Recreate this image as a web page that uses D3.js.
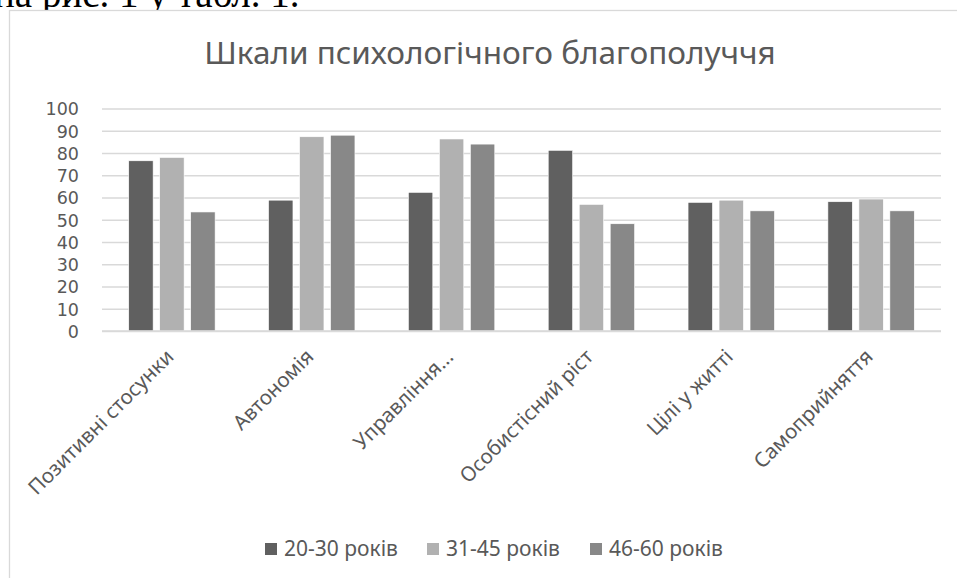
<!DOCTYPE html>
<html lang="uk">
<head>
  <meta charset="UTF-8">
  <title>Шкали психологічного благополуччя</title>
  <script src="https://d3js.org/d3.v7.min.js"></script>
  <style>
    body { margin: 0; background: #fff; }
    text { font-family: "Noto Sans", "Open Sans", sans-serif; fill: #595959; }
    .grid line { stroke: #d9d9d9; stroke-width: 1.3; }
    .grid text { font-family: "DejaVu Sans", sans-serif; font-size: 17.5px; }
    .x-label { font-size: 20.5px; }
    .legend text { font-size: 21px; }
  </style>
</head>
<body>
  <script>
    // data
    const categories = ["Позитивні стосунки", "Автономія", "Управління...", "Особистісний ріст", "Цілі у житті", "Самоприйняття"];
    const seriesNames = ["20-30 років", "31-45 років", "46-60 років"];
    const values2030 = [76.5, 58.8, 62.3, 81.2, 57.8, 58.1];
    const values3145 = [78.0, 87.3, 86.3, 56.9, 58.8, 59.3];
    const values4660 = [53.5, 88.0, 84.0, 48.2, 54.0, 54.0];
    const yTicks = [0, 10, 20, 30, 40, 50, 60, 70, 80, 90, 100];
    const colors = ["#606060", "#b1b1b1", "#888888"];

    const seriesValues = [values2030, values3145, values4660];
    const rows = categories.map((c, i) => ({
      cat: c,
      vals: seriesNames.map((s, j) => ({ s, v: seriesValues[j][i] }))
    }));

    const W = 957, H = 578;
    const margin = { top: 108.5, right: 16, bottom: 247, left: 102 };
    const width = W - margin.left - margin.right;
    const height = H - margin.top - margin.bottom;

    const svg = d3.select("body").append("svg")
      .attr("width", W)
      .attr("height", H);

    // fragment of document text above the chart (cut off by the page edge)
    svg.append("text")
      .attr("x", -6)
      .attr("y", 7)
      .style("font-family", "'Liberation Serif', serif")
      .style("font-size", "39px")
      .style("fill", "#000")
      .text("на рис. 1 у табл. 1.");

    // chart frame
    svg.append("rect")
      .attr("x", 9.5).attr("y", 10.5)
      .attr("width", W).attr("height", H)
      .attr("fill", "#fff")
      .attr("stroke", "#d9d9d9")
      .attr("stroke-width", 1.3);

    // title
    svg.append("text")
      .attr("x", 490)
      .attr("y", 64)
      .attr("text-anchor", "middle")
      .style("font-size", "31.5px")
      .text("Шкали психологічного благополуччя");

    const g = svg.append("g")
      .attr("transform", `translate(${margin.left},${margin.top})`);

    const x0 = d3.scaleBand().domain(categories).range([0, width]).padding(0);
    const barW = x0.bandwidth() / (3 + 2 * 0.27 + 2.19);
    const groupW = 3 * barW + 2 * 0.27 * barW;
    const x1 = d3.scaleBand().domain(seriesNames)
      .range([(x0.bandwidth() - groupW) / 2, (x0.bandwidth() + groupW) / 2])
      .paddingInner(0.27 / 1.27).paddingOuter(0);
    const y = d3.scaleLinear().domain([0, 100]).range([height, 0]);
    const color = d3.scaleOrdinal().domain(seriesNames).range(colors);

    // gridlines + y labels
    const yAxis = g.append("g").attr("class", "grid")
      .call(d3.axisLeft(y).tickValues(yTicks).tickSize(-width).tickPadding(23));
    yAxis.select(".domain").remove();
    yAxis.selectAll("text").attr("dy", "0.36em");

    // bars
    const groups = g.selectAll(".group")
      .data(rows)
      .enter().append("g")
      .attr("class", "group")
      .attr("transform", d => `translate(${x0(d.cat)},0)`);

    groups.selectAll("rect")
      .data(d => d.vals)
      .enter().append("rect")
      .attr("x", d => x1(d.s))
      .attr("y", d => y(d.v))
      .attr("width", x1.bandwidth())
      .attr("height", d => height - y(d.v))
      .attr("fill", d => color(d.s))
      .attr("stroke", "#ffffff")
      .attr("stroke-width", 0.6);

    // x axis line
    g.append("line")
      .attr("x1", 0).attr("x2", width)
      .attr("y1", height).attr("y2", height)
      .attr("stroke", "#d9d9d9")
      .attr("stroke-width", 1.3);

    // rotated category labels
    g.selectAll(".x-label")
      .data(categories)
      .enter().append("text")
      .attr("class", "x-label")
      .attr("text-anchor", "end")
      .attr("transform", d => `translate(${x0(d) + x0.bandwidth() / 2 + 3},${height + 27}) rotate(-45)`)
      .text(d => d);

    // legend
    const legendX = [265, 427, 590];
    const legend = svg.append("g").attr("class", "legend");
    const items = legend.selectAll("g")
      .data(seriesNames)
      .enter().append("g")
      .attr("transform", (d, i) => `translate(${legendX[i]},543)`);
    items.append("rect")
      .attr("width", 12).attr("height", 12)
      .attr("fill", d => color(d));
    items.append("text")
      .attr("x", 19)
      .attr("y", 12.5)
      .text(d => d);
  </script>
</body>
</html>
